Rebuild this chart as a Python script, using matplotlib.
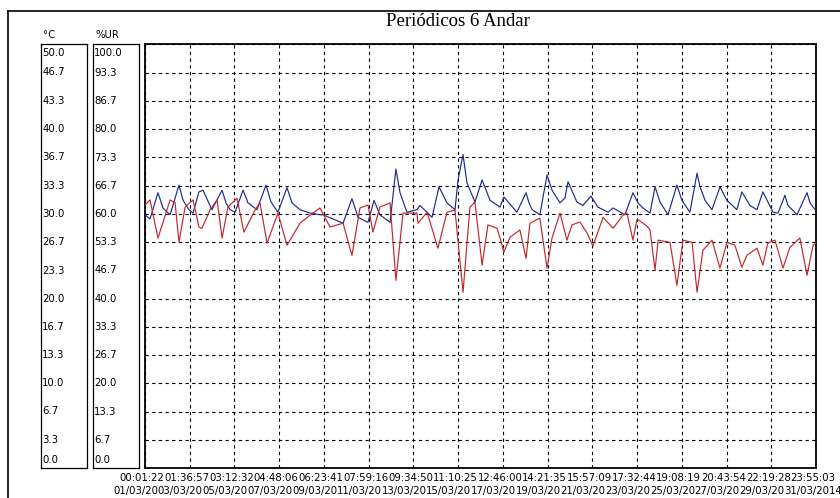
import matplotlib
matplotlib.use('Agg')
import matplotlib.pyplot as plt
from matplotlib.lines import Line2D
import numpy as np

#%% data (time in days from 01/03 00:01:22)

temp_t = [0.00, 0.23, 0.60, 0.83, 1.16, 1.57, 1.76, 2.03, 2.22, 2.49, 2.68, 3.09, 3.56, 3.74, 3.93,
          4.16, 4.53, 4.76, 5.17, 5.59, 5.82, 6.14, 6.56, 6.79, 7.16, 7.62, 8.08, 8.22, 9.15, 9.56,
          9.84, 10.30, 10.58, 10.85, 11.32, 11.59, 11.78, 12.10, 12.56, 12.70, 13.26, 13.58, 13.95, 14.32,
          14.46, 14.69, 14.87, 15.24, 15.57, 15.94, 16.40, 16.58, 17.18, 17.60, 17.74, 17.88, 18.24, 18.57,
          18.80, 19.17, 19.40, 19.54, 19.95, 20.23, 20.60, 20.92, 21.39, 21.62, 22.17, 22.54, 22.77, 23.00,
          23.33, 23.56, 23.79, 24.16, 24.57, 24.80, 25.17, 25.50, 25.64, 25.87, 26.19, 26.56, 26.88, 27.34,
          27.57, 27.94, 28.27, 28.54, 29.01, 29.24, 29.56, 29.70, 30.12, 30.58, 30.72, 30.95]
temp_c = [29.9, 29.4, 32.5, 30.7, 29.9, 33.4, 31.6, 30.5, 30.1, 32.6, 32.8, 30.5, 32.8, 31.3, 30.5,
          30.2, 32.8, 31.3, 30.5, 33.4, 31.4, 30.2, 33.1, 31.3, 30.5, 30.1, 29.9, 29.9, 28.9, 31.8,
          29.6, 29.0, 31.6, 29.9, 29.0, 35.3, 32.5, 30.2, 30.5, 31.0, 29.6, 33.2, 31.3, 30.5,
          34.0, 37.0, 33.7, 31.4, 34.0, 31.6, 30.8, 32.0, 30.2, 32.5, 31.3, 30.5, 29.9, 34.6,
          32.8, 31.3, 31.9, 33.8, 31.4, 31.0, 32.1, 30.8, 30.2, 30.7, 29.9, 32.5, 31.3, 30.7,
          30.1, 33.2, 31.4, 29.9, 33.4, 31.6, 30.2, 34.8, 33.2, 31.6, 30.5, 33.2, 31.6, 30.5,
          32.6, 31.0, 30.5, 32.6, 30.2, 30.1, 32.2, 31.0, 29.9, 32.5, 31.3, 30.5]

rh_t = [0.00, 0.23, 0.60, 1.16, 1.39, 1.57, 1.85, 2.22, 2.49, 2.63, 3.00, 3.33, 3.56, 3.83, 4.25,
        4.57, 5.08, 5.31, 5.64, 6.14, 6.56, 7.16, 7.62, 8.08, 8.55, 9.15, 9.56, 9.93, 10.30, 10.53,
        10.85, 11.32, 11.59, 11.92, 12.56, 12.61, 13.03, 13.53, 13.95, 14.32, 14.69, 15.01, 15.24, 15.57,
        15.84, 16.26, 16.40, 16.58, 16.86, 17.32, 17.60, 17.78, 18.24, 18.57, 18.80, 19.17, 19.49, 19.72,
        20.09, 20.42, 20.69, 21.16, 21.62, 22.08, 22.26, 22.54, 22.73, 23.19, 23.33, 23.56, 23.70, 24.25,
        24.57, 24.85, 25.27, 25.50, 25.77, 26.19, 26.56, 26.88, 27.25, 27.57, 27.80, 28.27, 28.54, 28.77,
        29.10, 29.47, 29.79, 30.25, 30.58, 30.86, 30.99]
rh_pct = [62.1, 63.3, 54.3, 63.3, 62.6, 53.3, 61.6, 63.3, 56.9, 56.6, 60.9, 63.3, 54.3, 61.6, 63.7,
          55.7, 60.9, 62.6, 53.1, 60.2, 52.6, 57.8, 59.7, 61.4, 56.9, 57.8, 50.2, 61.4, 62.1, 55.7,
          61.6, 62.6, 44.3, 60.2, 60.2, 57.8, 60.4, 51.9, 60.4, 60.9, 41.5, 61.6, 62.8, 47.9,
          57.4, 56.6, 54.3, 51.0, 54.5, 56.2, 49.5, 57.8, 59.0, 47.2, 54.3, 60.2, 53.8, 57.4,
          58.1, 55.5, 52.4, 59.2, 56.6, 59.7, 60.2, 53.8, 58.8, 57.1, 56.2, 46.7, 53.8, 53.3,
          43.1, 53.8, 53.3, 41.5, 51.4, 53.8, 47.2, 53.3, 52.6, 47.4, 50.2, 51.9, 47.9, 53.1,
          53.8, 47.2, 52.1, 54.3, 45.5, 52.6, 53.1]

time_labels = ['00:01:22', '01:36:57', '03:12:32', '04:48:06', '06:23:41', '07:59:16', '09:34:50', '11:10:25',
               '12:46:00', '14:21:35', '15:57:09', '17:32:44', '19:08:19', '20:43:54', '22:19:28', '23:55:03']
date_labels = ['01/03/2014', '03/03/2014', '05/03/2014', '07/03/2014', '09/03/2014', '11/03/2014',
               '13/03/2014', '15/03/2014', '17/03/2014', '19/03/2014', '21/03/2014', '23/03/2014',
               '25/03/2014', '27/03/2014', '29/03/2014', '31/03/2014']
span_days = 30.995
c_ticks = [0.0, 3.3, 6.7, 10.0, 13.3, 16.7, 20.0, 23.3, 26.7, 30.0, 33.3, 36.7, 40.0, 43.3, 46.7, 50.0]
ur_ticks = [0.0, 6.7, 13.3, 20.0, 26.7, 33.3, 40.0, 46.7, 53.3, 60.0, 66.7, 73.3, 80.0, 86.7, 93.3, 100.0]

#%% figure

W, H = 840, 498
fig = plt.figure(figsize=(W/100, H/100), dpi=100)
fig.patch.set_facecolor('white')
fnt = 'DejaVu Sans'
fs = 7.3

top, bot = 44.5, 468
ax = fig.add_axes([145/W, 1-bot/H, (816-145)/W, (bot-top)/H])
ax.set_xlim(0, span_days)
ax.set_ylim(0, 50)
xt = np.linspace(0, span_days, 16)
ax.set_xticks(xt)
ax.set_yticks(np.linspace(0, 50, 16))
ax.tick_params(length=0, labelbottom=False, labelleft=False)
ax.grid(True, color='black', linestyle=(0, (3, 3)), linewidth=0.8)
for s in ax.spines.values():
    s.set_linewidth(1.3)
    s.set_color('black')

ax2 = ax.twinx()
ax2.set_ylim(0, 100)
ax2.set_yticks([])
ax2.set_xlim(0, span_days)
for s in ax2.spines.values():
    s.set_visible(False)

ax2.plot(rh_t, rh_pct, color='#c4262b', lw=0.85)
ax.plot(temp_t, temp_c, color='#1e2a8e', lw=0.85, zorder=3)

# unit boxes at the left
for x0, vals, vmax, head in [(41, c_ticks, 50, '°C'), (93, ur_ticks, 100, '%UR')]:
    bx = fig.add_axes([x0/W, 1-bot/H, 46/W, (bot-top)/H])
    bx.set_xlim(0, 1)
    bx.set_ylim(0, vmax)
    bx.set_xticks([])
    bx.set_yticks([])
    for s in bx.spines.values():
        s.set_linewidth(0.9)
    for v in vals:
        if v == vmax:
            bx.text(0.03, vmax*0.992, '%.1f' % v, va='top', ha='left', fontsize=fs, family=fnt)
        elif v == 0:
            bx.text(0.03, vmax*0.006, '%.1f' % v, va='bottom', ha='left', fontsize=fs, family=fnt)
        else:
            bx.text(0.03, v, '%.1f' % v, va='center', ha='left', fontsize=fs, family=fnt)
    fig.text((x0+2)/W, 1-35/H, head, ha='left', va='center', fontsize=fs, family=fnt)

# x labels, each one drawn over the previous
for i, (x, tl, dl) in enumerate(zip(xt, time_labels, date_labels)):
    px = 145 + x/span_days*(816-145) - 3
    fig.text(px/W, 1-478/H, tl, ha='center', va='center', fontsize=fs, family=fnt, zorder=5+i,
             bbox=dict(facecolor='white', edgecolor='none', pad=0))
    fig.text(px/W, 1-491/H, dl, ha='center', va='center', fontsize=fs, family=fnt, zorder=5+i,
             bbox=dict(facecolor='white', edgecolor='none', pad=0))

fig.text(458/W, 1-22/H, 'Periódicos 6 Andar', ha='center', va='center', fontsize=13.5,
         family='Liberation Serif')

# outer frame
fig.add_artist(Line2D([8/W, 1], [1-11/H, 1-11/H], transform=fig.transFigure, color='black', lw=1.2))
fig.add_artist(Line2D([8/W, 8/W], [0, 1-11/H], transform=fig.transFigure, color='black', lw=1.2))

fig.savefig('out.png', dpi=100)
